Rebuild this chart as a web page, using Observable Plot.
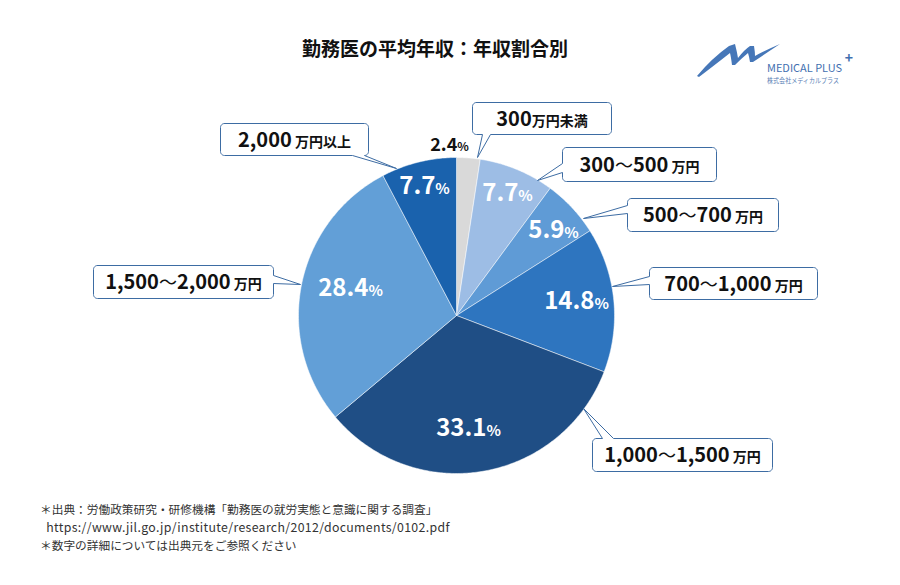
<!DOCTYPE html>
<html>
<head>
<meta charset="utf-8">
<script src="https://cdn.jsdelivr.net/npm/d3@7"></script>
<script src="https://cdn.jsdelivr.net/npm/@observablehq/plot@0.6"></script>
<style>
  html, body { margin: 0; padding: 0; background: #fff; }
  #wrap { position: relative; width: 900px; height: 585px; overflow: hidden; font-family: "Noto Sans CJK JP", "Noto Sans", sans-serif; }
  #chart { position: absolute; left: 0; top: 0; }
  #title { position: absolute; left: 302px; top: 34px; font-size: 19px; font-weight: bold; color: #111; white-space: nowrap; }
  #footer { position: absolute; left: 40px; top: 500px; font-size: 11.7px; line-height: 18px; color: #333; white-space: nowrap; }
  #footer .url { letter-spacing: 0.35px; font-size: 12.3px; }
  #logo { position: absolute; left: 0; top: 0; }
</style>
</head>
<body>
<div id="wrap">
  <div id="chart"></div>
  <div id="title">勤務医の平均年収：年収割合別</div>
  <svg id="logo" width="900" height="100">
    <path d="M697,76 Q712,58 729,46 L735,44 Q737,52 738,58 Q744,50 750,46 L754,46 Q755,52 755,56 Q766,50 780,44 Q768,52 753,62 L750,62 Q749,56 748,53 Q742,58 735,65 L732,65 Q731,57 730,53 Q716,64 699,77 Z" fill="#4677b8"/>
    <text x="767" y="72" font-family="Noto Sans CJK JP, sans-serif" font-size="11" fill="#3f6fb0" textLength="75" lengthAdjust="spacingAndGlyphs">MEDICAL PLUS</text>
    <text x="849" y="63" font-family="Noto Sans CJK JP, sans-serif" font-size="14" font-weight="bold" fill="#3f6fb0" text-anchor="middle">+</text>
    <text x="767" y="83" font-family="Noto Sans CJK JP, sans-serif" font-size="7" fill="#5a80b5" textLength="72" lengthAdjust="spacingAndGlyphs">株式会社メディカルプラス</text>
  </svg>
  <div id="footer">＊出典：労働政策研究・研修機構「勤務医の就労実態と意識に関する調査」<br><span class="url">&nbsp;&nbsp;https://www.jil.go.jp/institute/research/2012/documents/0102.pdf</span><br>＊数字の詳細については出典元をご参照ください</div>
</div>
<script>
// ---- data ----
const categories = ["300万円未満", "300～500万円", "500～700万円", "700～1,000万円", "1,000～1,500万円", "1,500～2,000万円", "2,000万円以上"];
const shares = [2.4, 7.7, 5.9, 14.8, 33.1, 28.4, 7.7];
const labelMain = ["300", "300～500", "500～700", "700～1,000", "1,000～1,500", "1,500～2,000", "2,000"];
const labelUnit = ["万円未満", "\u00a0万円", "\u00a0万円", "\u00a0万円", "\u00a0万円", "\u00a0万円", "\u00a0万円以上"];
const sliceColors = ["#d9d9d9", "#9dbde5", "#5f9bd6", "#2e75bf", "#1f4e85", "#629fd7", "#1a62ad"];

// ---- layout (pixel offsets from the pie centre) ----
const R = 158;
const pctOffset = [[-7, -170], [51, -122], [97, -85], [120, -14], [12, 113], [-106, -27], [-32, -129]];
const pctInside = [false, true, true, true, true, true, true];
const boxes = [[16, -213, 155, -181], [106, -168, 260, -134], [171, -117, 322, -84], [193, -48, 361, -16], [136, 123, 316, 156], [-363, -50, -183, -17], [-236, -192, -88, -160]];
const tails = [["bottom", 26, 34, 21, -158], ["left", -152, -143, 81, -135], ["left", -110, -102, 127, -97], ["left", -39, -31, 156, -29], ["top", 146, 157, 127, 93], ["right", -40, -32, -156, -31], ["bottom", -104, -92, -60, -147]];

// ---- slices ----
const arcs = d3.pie().sort(null).value(d => d)(shares);
const slicePts = [];
arcs.forEach((a, i) => {
  slicePts.push({cat: categories[i], x: 0, y: 0});
  const n = Math.max(2, Math.ceil((a.endAngle - a.startAngle) / 0.01));
  for (let k = 0; k <= n; k++) {
    const t = a.startAngle + (a.endAngle - a.startAngle) * k / n;
    slicePts.push({cat: categories[i], x: R * Math.sin(t), y: -R * Math.cos(t)});
  }
  slicePts.push({cat: categories[i], x: 0, y: 0});
});

// ---- callouts ----
function callout(id, b, tl) {
  const [x0, y0, x1, y1] = b, r = 4, pts = [];
  const [side, a, c, tx, ty] = tl;
  const arc = (cx, cy, a0, a1) => { for (let k = 0; k <= 6; k++) { const t = (a0 + (a1 - a0) * k / 6) * Math.PI / 180; pts.push([cx + r * Math.cos(t), cy + r * Math.sin(t)]); } };
  pts.push([x0 + r, y0]);
  if (side === "top") pts.push([a, y0], [tx, ty], [c, y0]);
  arc(x1 - r, y0 + r, -90, 0);
  if (side === "right") pts.push([x1, a], [tx, ty], [x1, c]);
  arc(x1 - r, y1 - r, 0, 90);
  if (side === "bottom") pts.push([c, y1], [tx, ty], [a, y1]);
  arc(x0 + r, y1 - r, 90, 180);
  if (side === "left") pts.push([x0, c], [tx, ty], [x0, a]);
  arc(x0 + r, y0 + r, 180, 270);
  pts.push([x0 + r, y0]);
  return pts.map(([x, y]) => ({id, x, y}));
}
const calloutPts = categories.flatMap((c, i) => callout(c, boxes[i], tails[i]));
const boxLabels = categories.map((c, i) => ({x: (boxes[i][0] + boxes[i][2]) / 2, y: (boxes[i][1] + boxes[i][3]) / 2 + 1, text: labelMain[i] + "|" + labelUnit[i]}));
const pctLabels = shares.map((v, i) => ({x: pctOffset[i][0], y: pctOffset[i][1], text: d3.format(".1f")(v) + "|%", inside: pctInside[i]}));

const plot = Plot.plot({
  width: 900, height: 585, margin: 0,
  x: {domain: [-456, 444], axis: null},
  y: {domain: [-315, 270], range: [0, 585], axis: null},
  color: {domain: categories, range: sliceColors},
  style: {fontFamily: "'Noto Sans CJK JP', sans-serif", background: "white"},
  marks: [
    Plot.line(slicePts, {x: "x", y: "y", z: "cat", fill: "cat", stroke: "white", strokeWidth: 0.5, curve: "linear"}),
    Plot.line(calloutPts, {x: "x", y: "y", z: "id", fill: "white", stroke: "#3d6ca3", strokeWidth: 1, curve: "linear"}),
    Plot.text(boxLabels, {x: "x", y: "y", text: "text", fontSize: 20, fontWeight: "bold", fill: "#111"}),
    Plot.text(pctLabels.filter(d => d.inside), {x: "x", y: "y", text: "text", fontSize: 24, fontWeight: "bold", fill: "white"}),
    Plot.text(pctLabels.filter(d => !d.inside), {x: "x", y: "y", text: "text", fontSize: 18, fontWeight: "bold", fill: "#111"})
  ]
});

// split "main|unit" into tspans: smaller unit, lighter tilde
const unitSize = {"20": 14, "24": 15, "18": 12};
const ns = "http://www.w3.org/2000/svg";
plot.querySelectorAll("text").forEach(t => {
  const s = t.textContent;
  if (!s.includes("|")) return;
  const [m, u] = s.split("|");
  const fs = t.closest("g").getAttribute("font-size");
  t.textContent = "";
  m.split(/(～)/).filter(p => p.length).forEach(p => {
    const a = document.createElementNS(ns, "tspan");
    a.textContent = p;
    if (p === "～") { a.setAttribute("font-weight", "normal"); a.setAttribute("font-size", 18); }
    t.appendChild(a);
  });
  const b = document.createElementNS(ns, "tspan"); b.textContent = u; b.setAttribute("font-size", unitSize[fs] || 14); t.appendChild(b);
});
document.getElementById("chart").appendChild(plot);
</script>
</body>
</html>
